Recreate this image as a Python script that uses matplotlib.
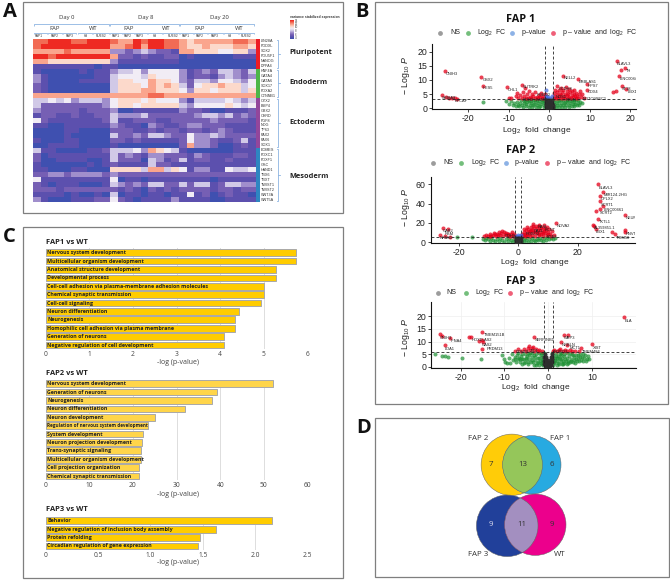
import matplotlib
matplotlib.use("Agg")
import numpy as np
import matplotlib.pyplot as plt
from matplotlib.colors import LinearSegmentedColormap
from matplotlib.patches import Circle, Rectangle

W, H = 670, 580
plt.rcParams['font.family'] = ['Liberation Sans', 'DejaVu Sans']
plt.rcParams['mathtext.fontset'] = 'custom'
plt.rcParams['mathtext.rm'] = 'Liberation Sans'
plt.rcParams['mathtext.it'] = 'Liberation Sans:italic'
plt.rcParams['mathtext.default'] = 'regular'
OPEN = ['Open Sans', 'DejaVu Sans']

# ---------- panel A data ----------
GENES = ['LIN28A','PODXL','SOX2','POU5F1','NANOG','DPPA4','HNF4A','GATA4','GATA6','SOX17','FOXA2','CTNNB1',
         'OTX2','BMP4','GBX2','CHRD','FGF8','NOG','TP63','PAX2','PAX6','SOX1','EOMES','FOXC1','FOXF1','GSC',
         'HAND1','TBX6','TBXT','TWIST1','TWIST2','WNT3A','WNT5A']
HEAT = [
 [8,8,9,9,9,8,8,9,9,9, 8,7,7,9,8,9,9,8,8, 7,6,7,7,7,7,7,8,8,7],
 [8,9,9,9,9,9,9,9,9,9, 7,7,8,9,7,9,9,8,8, 7,6,6,7,6,6,6,7,7,6],
 [7,7,7,7,8,7,7,7,7,7, 3,3,2,3,4,3,2,2,1, 7,7,6,6,6,5,5,6,6,3],
 [9,9,8,9,9,9,9,9,9,9, 7,2,2,1,2,1,1,2,2, 0,1,0,0,0,0,0,1,1,1],
 [7,7,6,6,6,6,6,6,6,6, 3,1,1,1,1,1,1,1,1, 0,0,0,0,0,0,0,0,0,0],
 [1,1,1,1,1,1,1,1,0,1, 1,0,0,0,0,0,0,0,0, 0,0,0,0,0,0,0,0,0,0],
 [1,0,0,0,0,0,1,0,1,1, 3,4,4,5,3,5,5,5,5, 3,1,2,3,2,4,4,3,2,4],
 [3,1,0,0,0,0,0,0,1,1, 4,5,5,5,4,6,5,5,5, 3,1,2,2,1,3,4,3,2,3],
 [3,1,0,0,0,0,1,1,1,1, 4,6,6,5,5,7,6,6,5, 3,2,4,4,3,5,5,4,3,5],
 [2,1,0,0,0,0,0,0,0,0, 4,6,6,6,5,7,6,7,6, 4,2,5,6,6,7,6,6,4,5],
 [2,1,0,0,0,0,0,0,0,0, 4,6,6,6,7,7,6,6,6, 5,3,6,6,5,6,6,6,4,6],
 [7,7,7,7,7,7,7,7,7,7, 7,7,7,7,7,8,8,7,7, 7,7,7,7,7,7,7,7,7,7],
 [4,4,5,4,5,3,4,4,4,3, 5,6,6,6,5,6,5,5,5, 3,1,4,4,4,4,5,4,3,4],
 [4,2,2,2,2,2,2,2,2,3, 5,6,6,5,6,6,6,6,6, 4,3,5,5,5,5,6,5,4,5],
 [3,2,2,2,2,2,1,2,2,2, 3,0,0,1,1,1,1,1,1, 3,2,2,1,0,0,1,1,1,2],
 [1,2,2,1,1,2,1,1,2,2, 4,3,3,3,4,2,2,2,2, 2,2,3,4,4,3,4,2,3,2],
 [5,2,1,1,1,1,1,1,1,2, 4,1,1,2,2,2,1,1,2, 2,2,2,2,3,2,2,2,2,1],
 [1,1,0,0,1,1,1,1,1,1, 3,2,1,1,0,3,2,1,1, 2,3,3,2,2,2,1,1,1,1],
 [0,0,0,0,1,1,0,0,0,0, 2,2,2,1,1,2,1,2,2, 1,2,2,1,2,3,2,1,1,1],
 [0,0,0,0,1,0,0,0,0,0, 4,2,2,3,2,4,4,3,2, 2,5,3,3,4,3,2,2,2,2],
 [1,0,0,0,1,1,0,0,0,0, 2,2,1,2,1,1,1,1,1, 2,5,3,3,2,1,1,2,4,1],
 [0,0,1,1,1,1,0,0,0,0, 1,0,0,0,0,0,0,0,0, 2,7,3,3,2,0,0,1,2,1],
 [4,1,1,0,0,0,0,1,1,2, 4,4,4,5,3,7,6,5,4, 1,0,0,0,0,0,0,1,1,1],
 [2,0,1,1,1,1,1,1,1,1, 4,2,3,2,1,3,3,2,2, 2,1,3,2,1,1,1,2,2,1],
 [2,0,0,1,1,1,1,0,0,1, 4,2,2,2,0,4,3,1,2, 4,1,2,2,1,1,2,1,1,1],
 [1,0,0,0,0,0,0,1,0,1, 2,1,1,1,1,4,2,2,1, 1,1,1,1,1,1,1,1,1,1],
 [1,1,0,0,0,1,1,0,0,0, 6,6,6,6,4,7,7,4,6, 5,1,3,3,1,1,5,4,4,5],
 [2,2,3,3,2,3,3,3,3,2, 3,2,2,2,2,2,2,2,2, 2,2,2,2,2,2,2,2,2,2],
 [5,1,1,1,1,1,1,1,1,1, 5,0,1,1,0,1,1,1,1, 1,1,1,1,0,1,1,1,1,1],
 [2,1,0,1,1,1,0,0,0,1, 4,3,2,3,2,4,4,2,2, 4,2,4,4,1,2,4,4,3,3],
 [2,2,2,1,2,2,2,2,2,2, 2,1,2,1,0,2,1,2,1, 2,2,2,2,1,2,2,1,2,2],
 [1,1,1,1,0,1,0,0,1,0, 4,0,1,1,0,1,1,0,1, 1,5,1,2,0,1,2,1,1,0],
 [3,1,0,0,0,1,1,1,2,2, 5,2,1,0,1,1,1,1,3, 1,1,1,1,0,0,1,1,1,1],
]
GROUP_COUNTS = [6, 6, 10, 11]
GROUP_NAMES = ['Pluripotent', 'Endoderm', 'Ectoderm', 'Mesoderm']
GROUP_COLORS = ['#ED1C24', '#4CB648', '#93469B', '#2E86C1']
DAYS = ['Day 0', 'Day 8', 'Day 20']
SAMPLES = ['FAP1', 'FAP2', 'FAP3', 'H9', 'RUES2']

# ---------- panel B data ----------
FAP1_NS = [(-0.9,0.3),(-0.7,1.2),(-0.5,0.2),(-0.8,2.2),(-0.4,1.0),(-0.2,0.3),(-0.5,2.0),(-0.1,1.1),(0.1,0.2),(0.2,0.9),
           (0.4,0.3),(0.5,1.5),(0.7,0.5),(0.8,2.0),(0.9,1.1),(-0.3,2.8),(0.3,2.4),(-0.6,0.7),(0.6,0.8),(0.0,1.8),
           (-0.9,1.5),(-0.7,2.8),(0.8,2.8),(0.9,0.3),(0.1,2.9),(-0.1,0.6)]
FAP1_GREEN = [(-16.3,2.4),(-10.6,2.6),(-9.8,1.6),(-9.3,2.5),(-9.0,1.0),(-8.6,1.8),(-8.2,0.9),(-8.0,2.4),(-7.7,1.3),(-7.4,0.7),
 (-7.2,2.0),(-7.0,2.9),(-6.8,1.1),(-6.5,0.6),(-6.3,1.7),(-6.1,2.6),(-5.8,0.8),(-5.6,1.4),(-5.4,2.2),(-5.2,3.0),(-5.0,0.6),
 (-4.8,1.2),(-4.6,1.9),(-4.4,2.7),(-4.2,0.5),(-4.0,1.0),(-3.8,1.6),(-3.6,2.3),(-3.4,3.0),(-3.2,0.5),(-3.0,1.1),(-2.8,1.8),
 (-2.6,2.5),(-2.4,0.4),(-2.2,0.9),(-2.0,1.5),(-1.8,2.2),(-1.6,2.9),(-1.4,0.4),(-1.2,1.0),(-1.1,1.8),(1.1,0.5),(1.2,1.4),
 (1.3,2.3),(1.6,0.4),(1.8,1.0),(2.0,1.8),(2.2,2.7),(2.4,0.5),(2.6,1.2),(2.8,2.0),(3.0,3.0),(3.2,0.5),(3.4,1.0),(3.6,1.7),
 (3.8,2.4),(4.0,0.6),(4.2,1.3),(4.4,2.1),(4.6,2.9),(4.8,0.6),(5.0,1.1),(5.2,1.8),(5.4,2.6),(5.6,0.7),(5.8,1.4),(6.0,2.2),
 (6.2,0.9),(6.4,1.6),(6.6,2.8),(6.8,1.0),(7.0,1.9),(7.3,1.2),(7.6,2.3),(8.0,1.7),
 (-5.9,2.9),(-4.9,2.5),(-3.9,3.1),(-2.9,2.9),(-1.9,3.0),(-1.3,2.6),(1.5,3.0),(2.5,2.9),(3.5,2.8),(4.3,3.0),(5.5,3.0),(6.1,3.0),(7.2,2.9)]
FAP1_BLUE = [(-0.9,3.6),(-0.7,4.5),(-0.9,6.5),(-0.5,3.5),(0.3,3.7),(0.6,4.2),(-0.2,3.9)]
FAP1_RED = [(-26.4,4.8),(-25.5,3.9),(-24.8,3.7),(-24.0,3.6),(-23.3,3.5),(-22.7,3.4),(-25.6,13.2),(-16.7,10.9),(-16.4,7.9),
 (-10.5,7.4),(-6.8,8.4),(-9.8,3.8),(-9.4,3.5),(-8.2,4.2),(-8.0,5.4),(-7.6,3.7),(-7.2,4.8),(-6.8,3.6),(-6.5,5.8),(-6.2,4.2),
 (-6.0,7.0),(-5.7,3.7),(-5.4,4.9),(-5.2,3.5),(-5.0,6.1),(-4.7,4.1),(-4.4,3.6),(-4.2,5.2),(-3.9,4.4),(-3.6,3.7),(-3.4,5.6),
 (-3.1,4.1),(-2.8,3.5),(-2.6,4.8),(-2.3,3.9),(-2.1,5.4),(-1.8,3.6),(-1.6,4.4),(-1.3,3.7),(-1.1,5.0),(1.1,3.5),(1.2,4.4),
 (1.3,5.4),(1.5,6.6),(1.6,3.7),(1.8,4.6),(1.9,7.7),(2.0,5.6),(2.2,3.6),(2.3,4.4),(2.5,6.3),(2.6,5.2),(2.8,3.8),(2.9,7.2),
 (3.0,4.6),(3.2,5.8),(3.4,3.6),(3.5,6.6),(3.6,4.4),(3.8,5.2),(4.0,3.7),(4.1,7.4),(4.3,4.6),(4.4,6.0),(4.6,3.5),(4.7,5.2),
 (4.9,6.7),(5.0,4.1),(5.2,5.6),(5.4,3.6),(5.5,4.7),(5.7,6.2),(5.9,3.9),(6.0,5.1),(6.2,6.6),(6.4,4.3),(6.5,3.5),(6.7,5.5),
 (6.9,4.4),(7.1,3.7),(7.3,5.0),(7.5,6.2),(7.8,4.0),(8.1,4.9),(8.5,3.6),(9.2,6.5),(9.2,8.6),(7.1,10.2),(3.4,11.5),
 (16.7,16.7),(18.6,14.1),(17.6,13.5),(17.1,11.4),(18.0,7.9),(16.4,6.2),(15.8,5.6),(19.0,6.7)]
FAP1_LABELS = [('CNIH3',-25.4,12.2),('GSX2',-16.5,10.0),('HES5',-16.3,7.0),('CHL1',-10.3,6.5),('SLITRK2',-6.6,7.5),
 ('NELL2',3.6,10.6),('ERBLAS1',7.3,9.4),('HPS7',9.4,7.7),('CDX4',9.6,5.7),('ELAVL3',16.7,15.7),('TH',18.9,13.2),
 ('LINC00844',17.3,10.2),('ST18',18.0,6.9),('LBX1',19.3,5.7),('SHISA9',-26.6,3.7),('EFCAF',-23.3,2.7),('NOTO9SEC1',8.3,3.3),
 ('LUZP2',-3.3,2.8),('CDH9',-6.5,3.1),('NOS1',1.5,4.0),('PCDH8',2.2,6.9),('RELN',4.0,2.8),('ROBO2',-3.2,4.7)]

FAP2_NS = [(-0.9,0.5),(-0.6,2.5),(-0.3,0.4),(-0.8,4.2),(0.0,1.6),(0.3,0.4),(0.5,2.8),(0.8,0.9),(0.9,4.4),(-0.2,4.0),(0.2,4.8),
           (-0.5,1.2),(0.6,1.4),(-0.1,3.0),(0.4,3.8),(-0.9,2.0)]
FAP2_GREEN = [(-20.7,5.2),(-15.7,5.9),(-11.8,3.9),(-11.2,2.6),(-10.7,4.9),(-10.1,3.2),(-9.5,1.6),(-9.0,4.3),(-8.4,2.4),(-7.8,0.9),
 (-7.2,3.6),(-6.6,1.6),(-6.0,4.9),(-5.4,2.7),(-4.8,0.8),(-4.2,3.9),(-3.6,1.8),(-3.0,4.9),(-2.5,2.9),(-2.0,0.7),(-1.5,3.9),
 (-1.1,1.6),(1.1,0.9),(1.4,3.6),(1.8,1.7),(2.2,4.9),(2.7,2.6),(3.2,0.7),(3.7,3.9),(4.2,1.6),(4.7,4.9),(5.2,2.8),(5.7,0.9),
 (6.2,3.9),(6.7,1.9),(7.2,4.9),(7.7,2.6),(8.2,1.2),(8.7,4.1),(9.2,2.3),(9.7,5.1),(10.3,3.1),(10.9,4.6),(11.6,3.6),(12.3,4.6)]
FAP2_BLUE = [(-0.7,6.8),(-0.2,7.5),(0.4,6.6),(0.8,8.0)]
FAP2_RED = [(-25.4,14.8),(-23.5,13.4),(-26.3,7.2),(-24.6,6.6),(-23.0,5.9),(-11.5,6.5),(-10.8,7.5),(-10.2,6.4),(-9.6,8.5),(-9.1,6.6),
 (-8.5,7.8),(-8,9.5),(-7.5,6.8),(-7,8.2),(-6.6,10.5),(-6.2,7.4),(-5.7,9.2),(-5.3,12),(-5,6.7),(-4.6,8.5),(-4.2,10),(-3.8,7.2),
 (-3.4,9),(-3,6.4),(-2.6,8.2),(-2.2,10.5),(-1.8,7),(-1.4,8.8),(-1.1,6.5),(1.2,6.8),(1.4,9),(1.7,7.6),(1.9,11),(2.2,6.5),(2.4,8.4),
 (2.6,12.5),(2.9,10),(3.1,7),(3.3,14),(3.6,9),(3.8,11.5),(4.0,6.6),(4.2,16),(4.4,13),(4.6,8),(4.9,10.5),(5.1,19),(5.3,14.5),(5.5,7),
 (5.7,12),(6.0,17),(6.2,9.5),(6.4,15),(6.7,11),(6.9,7.2),(7.1,18),(7.3,13),(7.6,9),(7.8,16),(8.0,11),(8.3,7),(8.5,14),(8.7,17.5),
 (9.0,9.5),(9.2,12.5),(9.5,16),(9.8,7.5),(10,11),(10.3,14),(10.7,9),(11,6.8),(11.4,12),(12,8),(12.7,19.7),
 (26.9,60),(28.6,51.7),(27.4,48),(27.4,42.8),(28.3,37.6),(26,32.8),(27.4,34.1),(35.8,28.3),(26.9,24.5),(25,17.9),(25.4,17.2),
 (26,14.1),(31.5,10.7),(35.8,12.8),(36.0,10.9),(32.5,8.3),
 (2.0,13.5),(3.0,16),(4.0,12),(5.0,16.5),(6.5,13),(7.5,15),(8.2,10),(9.0,15),(10.0,8.5),(2.6,7.5),(4.7,13),(6.8,17),
 (-9.5,7),(-7.8,8.8),(-6.8,7.2),(-4.9,10.8),(-3.6,8.2),(-2.4,6.6),(3.5,11),(5.5,11),(7.0,9),(8.8,12)]
FAP2_LABELS = [('ELAVL3',27.1,56.5),('MIR124-2HG',28.6,48.5),('CPLX2',27.6,44.5),('SCRT1',27.6,39),('LINC00461',28.6,33.5),
 ('SCRT2',27.4,30),('NEUF',36,25.5),('TKTL1',27.1,21.5),('AL359851.1',25.3,15),('LBX1',26,10.5),('RNVT',36,9),('TRIM58',32.8,4.8),
 ('NOVA2',12.9,16.5),('GAB2',-25.2,12),('RBM',-24.6,8.5),('NPAS1',-26.3,4),('DAZL',5.0,11.5),('RASL',6.4,16),('KCNT',9,12.5),
 ('CDH9',-4.5,6.8),('ROBO2',2.5,8.2),('FGF9',9.5,5.8)]

FAP3_NS = [(-0.9,1.0),(-0.7,3.1),(-0.5,0.4),(-0.8,4.9),(-0.3,1.7),(-0.1,0.2),(0.1,0.9),(0.3,0.3),(0.5,1.9),(0.7,0.7),(0.9,3.0),
           (0.8,5.0),(-0.6,1.9),(0.6,3.8),(-0.4,3.8),(0.3,2.8),(-0.2,2.7),(0.0,0.5),(-0.9,2.3),(-0.9,3.9),(0.9,2.0),(0.9,4.0),
           (-0.5,2.9),(0.5,0.9),(-0.7,0.7),(0.2,1.6)]
FAP3_GREEN = [(-25.8,5.0),(-24.2,4.2),(-23.6,4.1),(-23.0,3.8),(-19.7,3.3),(-15.4,3.2),(-10.6,4.6),(-10.1,3.0),(-9.8,2.0),(-9.4,1.3),
 (-9.0,3.6),(-8.7,1.6),(-8.3,5.0),(-8.0,2.6),(-7.7,4.0),(-7.3,1.9),(-7.0,3.1),(-6.8,5.3),(-6.5,2.0),(-6.2,4.2),(-6.0,1.2),(-5.7,3.1),
 (-5.4,5.2),(-5.2,1.9),(-4.9,4.1),(-4.6,1.0),(-4.4,2.9),(-4.1,5.3),(-3.9,1.7),(-3.6,3.8),(-3.3,0.8),(-3.1,2.7),(-2.8,4.9),(-2.6,1.4),
 (-2.4,3.4),(-2.1,0.6),(-1.9,2.3),(-1.7,4.5),(-1.5,1.0),(-1.3,3.0),(-1.1,5.4),(-1.1,1.7),(-2.2,5.5),(-3.7,5.6),(-5.0,2.9),(-6.7,3.6),
 (1.1,0.5),(1.1,2.6),(1.2,4.7),(1.4,1.3),(1.5,3.4),(1.7,5.4),(1.9,0.7),(2.1,2.3),(2.3,4.3),(2.5,1.2),(2.7,3.2),(2.9,5.4),(3.1,0.9),
 (3.3,2.1),(3.5,4.2),(3.7,1.4),(3.9,3.2),(4.2,5.3),(4.4,1.2),(4.6,2.4),(4.8,4.2),(5.0,1.7),(5.2,3.2),(5.4,5.2),(5.7,2.0),(5.9,3.9),
 (6.2,1.6),(6.4,2.9),(6.7,4.8),(7.0,2.3),(7.3,3.7),(7.6,2.8),(7.9,5.0),(8.2,3.5),(8.6,2.4),(9.0,4.1),(9.4,3.0),(0.9,5.5),(-0.9,5.6),
 (-7.6,2.9),(-7.1,4.6),(-6.4,2.9),(-5.9,5.0),(-5.5,1.5),(-5.1,3.5),(-4.7,2.0),(-4.3,4.6),(-3.8,2.7),(-3.4,1.7),(-3.0,3.7),(-2.7,0.8),
 (-2.3,2.0),(-2.0,3.6),(-1.7,1.5),(-1.5,2.8),(-1.4,3.9),(-1.2,0.8),(-1.6,5.4),(-3.2,4.8),(-4.6,5.5),(-6.0,3.0),
 (1.3,2.0),(1.6,2.5),(1.8,4.4),(2.2,1.5),(2.4,3.4),(2.6,5.0),(2.9,2.3),(3.2,3.4),(3.4,1.0),(3.7,5.1),(4.0,2.2),(4.3,3.6),(4.6,1.4),
 (4.9,5.4),(5.2,2.4),(5.6,4.5),(6.0,2.7),(6.3,4.6),(6.6,2.1),(6.9,3.6),(7.3,5.1),(7.7,3.8),(8.0,2.1),(8.4,4.5),(8.9,3.1),(2.0,3.5),(3.0,4.5)]
FAP3_RED = [(17.4,19.6),(-15.2,13.6),(-24.8,12.8),(-24.2,12.2),(-22.5,11.5),(-18,11.7),(-17.6,11.7),(-15.9,10.2),(-15.2,10.5),
 (-14.9,9.7),(-15.1,7),(-23.6,8.6),(-3.2,11.7),(3.6,12.6),(4.5,12.5),(3,9.9),(4.4,8.6),(7.6,7.3),(10.1,8.9),(-7.5,6.4),(-6.8,7.1),
 (-6.2,6.3),(-5.6,6.9),(-5.1,6.2),(-4.7,7.6),(-4.4,8.3),(-4.1,6.5),(-3.8,7.4),(-3.5,8.0),(-3.2,6.3),(-2.8,7.0),(-2.4,6.2),(-2.0,6.6),
 (-1.5,6.2),(1.1,6.1),(1.4,6.6),(1.9,6.2),(2.4,6.5),(2.8,7.2),(3.4,6.3),(3.8,6.8),(4.4,6.2),(4.9,6.5),(5.5,6.2),(6.2,6.4),(7.0,6.2)]
FAP3_LABELS = [('ELA',17.4,18.2),('TMEM151B',-14.8,12.6),('CNIH3',-24.8,11.4),('IFNA4',-22.4,10.2),('HOXD-AS2',-17.6,10.4),
 ('GAS2',-15.1,8.6),('PRDM13',-14,6.9),('LDA1',-23.6,7.2),('SERPINB1',-3.1,10.4),('WBP3',3.6,11.4),('NRBLN',3,8.7),('MCT1',4.9,7.3),
 ('XIST',10.2,7.5),('TMEM486',7.7,6.0),('CDH10',-7.5,5.9),('ZIC1',-4.2,6.2),('ROBO2',1.2,5.7)]

LEGEND_COLORS = {'NS':'#9C9C9C','FC':'#74BE7C','P':'#8DB2E6','PFC':'#EF5F78'}

# ---------- panel C data ----------
C1_TERMS = ['Nervous system development','Multicellular organism development','Anatomical structure development',
            'Developmental process','Cell-cell adhesion via plasma-membrane adhesion molecules','Chemical synaptic transmission',
            'Cell-cell signaling','Neuron differentiation','Neurogenesis','Homophilic cell adhesion via plasma membrane',
            'Generation of neurons','Negative regulation of cell development']
C1_VALS = [5.73,5.73,5.27,5.27,5.01,5.01,4.93,4.42,4.33,4.33,4.08,4.08]
C1_TICKS = [0,1,2,3,4,5,6]
C2_TERMS = ['Nervous system development','Generation of neurons','Neurogenesis','Neuron differentiation','Neuron development',
            'Regulation of nervous system development','System development','Neuron projection development',
            'Trans-synaptic signaling','Multicellular organism development','Cell projection organization',
            'Chemical synaptic transmission']
C2_VALS = [52,39.2,38,32,25,23.4,22.2,22,21.9,21.9,21.4,21.4]
C2_TICKS = [0,10,20,30,40,50,60]
C3_TERMS = ['Behavior','Negative regulation of inclusion body assembly','Protein refolding','Circadian regulation of gene expression']
C3_VALS = [2.16,1.63,1.47,1.45]
C3_TICKS = [0,0.5,1.0,1.5,2.0,2.5]
C3_TICKLABELS = ['0','0.5','1.0','1.5','2.0','2.5']

# ---------- panel D data ----------
VENN_TOP = {'left':(511.8,464.8,30.7,'#FFCC08'),'right':(531.8,464.8,29.2,'#27AAE1'),'both':'#95C65A'}
VENN_BOT = {'left':(507.2,525.8,30.8,'#21409A'),'right':(535.3,524.7,30.7,'#EC008C'),'both':'#A38FC0'}

fig = plt.figure(figsize=(W/100, H/100), dpi=100, facecolor='white')
base = fig.add_axes([0, 0, 1, 1])
base.set_xlim(0, W); base.set_ylim(H, 0); base.axis('off')

def ax_px(x0, y0, x1, y1, **kw):
    a = fig.add_axes([x0/W, 1-y1/H, (x1-x0)/W, (y1-y0)/H], **kw)
    a.patch.set_alpha(0)
    return a

def T(x, y, s, size=5, ha='left', va='center', color='black', weight='normal', family=None, rot=0, a=None):
    (a or base).text(x, y, s, fontsize=size, ha=ha, va=va, color=color, fontweight=weight,
                     family=family if family else plt.rcParams['font.family'], rotation=rot)

# frames
for x0, y0, x1, y1 in [(23,2,343,213),(375,2,668,404),(23,227,343,578),(375,418,669,577)]:
    base.add_patch(Rectangle((x0,y0),x1-x0,y1-y0,fill=False,ec='#7f7f7f',lw=0.9))
for s, x, y in [('A',3,12),('B',355,12),('C',3,237),('D',356,428)]:
    T(x, y, s, size=14.5, weight='bold', family=OPEN, color='#111111')

# ---------- A ----------
cm = LinearSegmentedColormap.from_list('h', ['#3F50B0','#5D51AE','#7760B5','#A08ECC','#D2CAE8','#F1EDF6',
                                            '#FCD9CB','#FBA78F','#F36C55','#EE2A22'])
ah = ax_px(33.3, 39, 255.5, 202)
ah.imshow(np.array(HEAT), cmap=cm, vmin=0, vmax=9, aspect='auto', interpolation='nearest')
ah.axis('off')
HB = '#8DB4E2'
def bracket(x0, x1, y, d=1.5):
    base.plot([x0,x0,x1,x1],[y+d,y,y,y+d],color=HB,lw=0.6,solid_capstyle='butt')
for s, x in zip(DAYS, [67,146,219]):
    T(x, 18, s, size=4.2, ha='center', color='#333333', family=OPEN)
for x0, x1 in [(34,109),(110,179),(180,254)]:
    bracket(x0, x1, 24.3)
for s, x in zip(['FAP','WT','FAP','WT','FAP','WT'], [55,93,129,166,200,239]):
    T(x, 29, s, size=4.2, ha='center', color='#333333', family=OPEN)
for x0, x1 in [(34,47),(48,62),(63,76),(78,92),(93,109),(110,122),(123,134),(135,147),(148,162),(163,179),
               (180,193),(194,207),(208,223),(224,238),(239,254)]:
    bracket(x0, x1, 33.3, 1)
for s, x in zip(SAMPLES*3, [39,55,70,86,101,116,128,140,155,173,186,200,215,230,246]):
    T(x, 36, s, size=2.3, ha='center', color='#333333')
axc = ax_px(255.7, 39, 259.5, 202)
start = 0
rh = 163/33
bx = 278
for n, name, col, ly in zip(GROUP_COUNTS, GROUP_NAMES, GROUP_COLORS, [52,83,123,177]):
    axc.barh(start + n/2, 1, height=n, color=col, left=0)
    y0, y1 = 39+start*rh, 39+(start+n)*rh
    base.plot([bx-1.5,bx,bx,bx-1.5],[y0+1,y0+1,y1-1,y1-1],color=HB,lw=0.6)
    base.plot([bx,bx+1.5],[(y0+y1)/2]*2,color=HB,lw=0.6)
    T(289, ly, name, size=5.3, weight='bold', family=OPEN, color='#222222')
    start += n
axc.set_ylim(33, 0); axc.set_xlim(0, 1); axc.axis('off')
for i, g in enumerate(GENES):
    T(261, 39+(i+.5)*rh, g, size=2.7, color='#333333')
T(290, 17, 'variance stabilized expression', size=2.4, weight='bold', color='#333333')
acb = ax_px(290, 20, 294, 39)
acb.imshow(np.linspace(9,0,30).reshape(-1,1), cmap=cm, vmin=0, vmax=9, aspect='auto')
acb.axis('off')
for i, s in enumerate(['14','12','10','8','6','4']):
    T(295, 20.5+i*3.5, s, size=2.1, color='#444444')

# ---------- B ----------
def volcano(rect, xlim, ylim, xt, yt, hy, vx, groups, labels, grid=False, xlab=(0,0), title=(0,0), ylab=(0,0),
            leg=None):
    a = ax_px(*rect)
    a.set_xlim(*xlim); a.set_ylim(*ylim)
    if grid:
        a.grid(True, color='#EFEFEF', lw=0.5); a.set_axisbelow(True)
    for pts, col, al, z in groups:
        p = np.array(pts)
        a.scatter(p[:,0], p[:,1], s=8.5, color=col, alpha=al, lw=0, zorder=z)
    a.axhline(hy, color='#222222', lw=0.6, ls=(0,(3.5,2.5)), zorder=6)
    for v in vx:
        a.axvline(v, color='#222222', lw=0.6, ls=(0,(3.5,2.5)), zorder=6)
    for n, x, y in labels:
        a.text(x, y, n, fontsize=2.9, color='#222222', va='center', ha='left', zorder=7, clip_on=True)
    a.spines['top'].set_visible(False); a.spines['right'].set_visible(False)
    for s in ['left','bottom']:
        a.spines[s].set_linewidth(0.8); a.spines[s].set_color('#111111')
    a.set_xticks(xt); a.set_yticks(yt)
    a.set_xticklabels([('-'+str(abs(v)) if v<0 else str(v)) for v in xt])
    a.tick_params(labelsize=6.3, length=2, width=0.6, pad=1.5, colors='#222222')
    T(xlab[0], xlab[1], 'Log$_{2}$  fold  change', size=6.0, ha='center', color='#222222')
    T(title[0], title[1], title[2], size=7.8, ha='center', weight='bold', family=OPEN, color='#111111')
    T(ylab[0], ylab[1], '$-$ Log$_{10}$ $\\mathit{P}$', size=6.3, ha='center', rot=90, color='#222222')
    for mx, tx, key, s in leg[1]:
        base.scatter([mx],[leg[0]],s=12,color=LEGEND_COLORS[key],lw=0,zorder=5)
        T(tx, leg[0], s, size=5.0, color='#222222')

G = '#1E9034'; R = '#E4001A'; NS = '#2E2E2E'; BL = '#4169E1'
volcano((432,44,636,109.3),(-28.9,21.4),(-0.35,22.7),[-20,-10,0,10,20],[0,5,10,15,20],3.4,[-1,1],
        [(FAP1_GREEN,G,.7,2),(FAP1_RED,R,.75,3),(FAP1_NS,NS,.95,4),(FAP1_BLUE,BL,.7,3)],FAP1_LABELS,
        xlab=(537,130.5),title=(520.7,19,'FAP 1'),ylab=(406,75),
        leg=(33,[(440,450,'NS','NS'),(468,477,'FC','Log$_{2}$  FC'),(512,522,'P','p\u2013value'),
                 (553,562,'PFC','p \u2013 value  and  log$_{2}$  FC')]))
volcano((430.7,176.7,635,243.3),(-29.4,39.2),(-1,67.8),[-20,0,20],[0,20,40,60],5.8,[-1,1],
        [(FAP2_GREEN,G,.7,2),(FAP2_RED,R,.75,3),(FAP2_NS,NS,.95,4),(FAP2_BLUE,BL,.7,3)],FAP2_LABELS,
        xlab=(535,263),title=(520.7,150.7,'FAP 2'),ylab=(406,207),
        leg=(162.7,[(433,443,'NS','NS'),(461,471,'FC','Log$_{2}$  FC'),(506,515,'P','p\u2013value'),
                    (547,556,'PFC','p \u2013 value  and  log$_{2}$  FC')]))
volcano((431,301.7,635.7,367.7),(-26.8,20.0),(-0.4,25.8),[-20,-10,0,10],[0,5,10,15,20],5.9,[-1.07,1],
        [(FAP3_GREEN,G,.7,2),(FAP3_RED,R,.75,3),(FAP3_NS,NS,.95,4)],FAP3_LABELS,grid=True,
        xlab=(536,387.5),title=(520.7,281,'FAP 3'),ylab=(406,337),
        leg=(293,[(437.7,446.7,'NS','NS'),(465.7,474.7,'FC','Log$_{2}$  FC'),
                  (510,519.3,'PFC','p \u2013 value  and  log$_{2}$  FC')]))

# ---------- C ----------
def bars(top, bot, terms, vals, ticks, ticklabels, xmax, color, label_y, tsize=3.85):
    a = ax_px(45.7, top, 307.5, bot)
    a.set_xlim(0, xmax); a.set_ylim(len(vals)-.5, -.5)
    for t in ticks[1:]:
        a.axvline(t, color='#DDDDDD', lw=0.7, zorder=0)
    a.barh(range(len(vals)), vals, height=0.8, color=color, edgecolor='#A9A9A9', lw=0.7, zorder=2)
    for i, s in enumerate(terms):
        size = 3.3 if s.startswith('Regulation') else tsize
        a.text(xmax*0.006, i, s, fontsize=size, fontweight='bold', family=OPEN, color='#222222', va='center', zorder=3)
    for s in a.spines.values():
        s.set_visible(False)
    a.set_yticks([]); a.set_xticks(ticks); a.set_xticklabels(ticklabels)
    a.tick_params(axis='x', length=0, pad=1.5, labelsize=4.8, labelcolor='#444444')
    for l in a.get_xticklabels():
        l.set_family(OPEN)
    T(178, label_y, '-log (p-value)', size=5, ha='center', color='#444444', family=OPEN)
    return a

bars(248.5,349.2,C1_TERMS,C1_VALS,C1_TICKS,[str(t) for t in C1_TICKS],6,'#FFCC00',362.7)
bars(379.5,480.2,C2_TERMS,C2_VALS,C2_TICKS,[str(t) for t in C2_TICKS],60,'#FFD54A',494.3)
bars(516.5,550.2,C3_TERMS,C3_VALS,C3_TICKS,C3_TICKLABELS,2.5,'#FFCC00',562.3)
for s, y in [('FAP1 vs WT',242.3),('FAP2 vs WT',373.3),('FAP3 vs WT',509.3)]:
    T(45.7, y, s, size=5.4, weight='bold', family=OPEN, color='#222222')

# ---------- D ----------
def venn(v):
    xl, yl, rl, cl = v['left']; xr, yr, rr, cr = v['right']
    base.add_patch(Circle((xl,yl),rl,fc=cl,ec='none',zorder=2))
    base.add_patch(Circle((xr,yr),rr,fc=cr,ec='none',zorder=3))
    c3 = Circle((xr,yr),rr,fc=v['both'],ec='none',zorder=4)
    base.add_patch(c3); c3.set_clip_path(Circle((xl,yl),rl,transform=base.transData))
    base.add_patch(Circle((xl,yl),rl,fc='none',ec='#666666',lw=0.35,zorder=5))
    base.add_patch(Circle((xr,yr),rr,fc='none',ec='#666666',lw=0.35,zorder=5))
venn(VENN_TOP); venn(VENN_BOT)
base.set_xlim(0, W); base.set_ylim(H, 0)
for s, x, y in [('FAP 2',478.5,438.5),('FAP 1',560.5,438.5),('FAP 3',478.5,555),('WT',559.5,554.5)]:
    base.text(x, y, s, fontsize=5.7, ha='center', va='center', family=OPEN, color='#333333', zorder=6)
for s, x, y, c in [('7',491,465,'#333333'),('13',522.7,465,'#333333'),('6',551.7,465,'#333333'),
                   ('9',491,525,'#DDDDEE'),('11',522.3,525,'#333333'),('9',552,525,'#333333')]:
    base.text(x, y, s, fontsize=5.7, ha='center', va='center', family=OPEN, color=c, zorder=6)

fig.savefig('out.png', dpi=100)
